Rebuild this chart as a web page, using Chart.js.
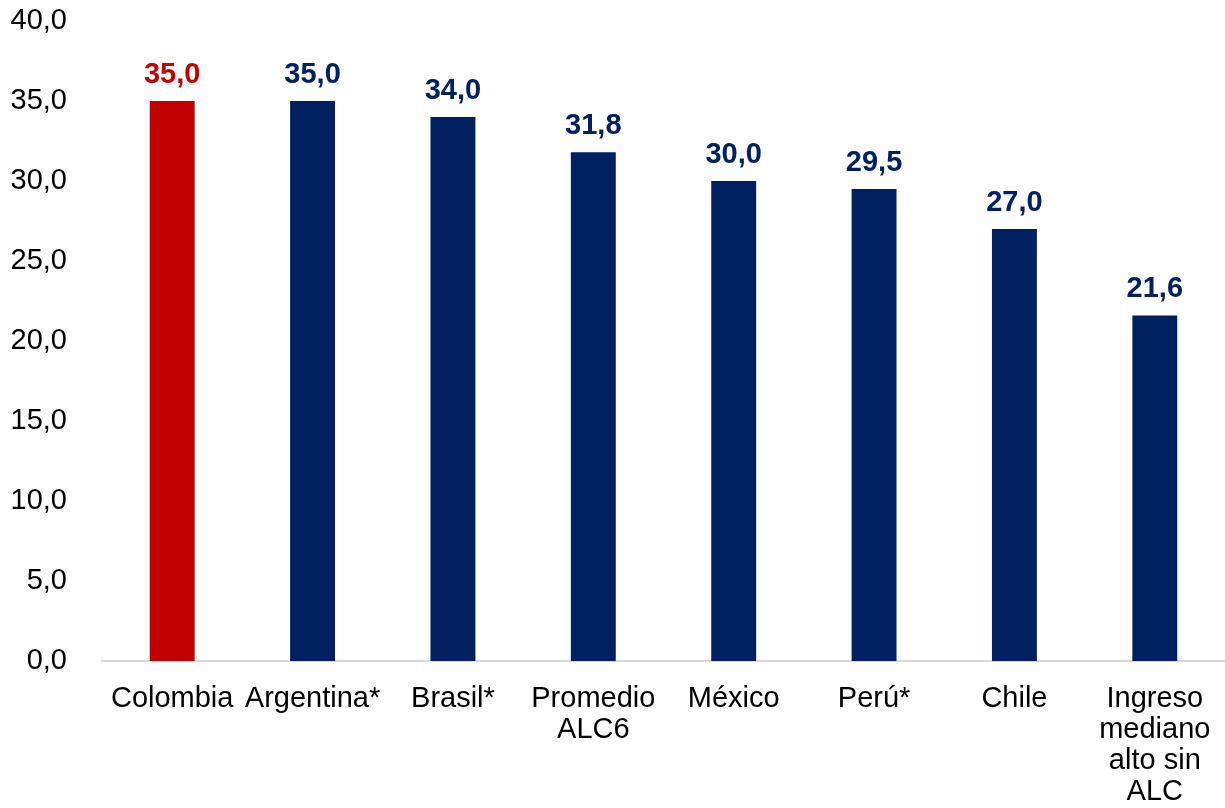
<!DOCTYPE html>
<html>
<head>
<meta charset="utf-8">
<script src="https://cdn.jsdelivr.net/npm/chart.js@4"></script>
<style>
  html, body { margin: 0; padding: 0; background: #fff; }
  #wrap { width: 1225px; height: 808px; position: relative; }
</style>
</head>
<body>
<div id="wrap"><canvas id="chart"></canvas></div>
<script>
const categories = [
  "Colombia",
  "Argentina*",
  "Brasil*",
  ["Promedio", "ALC6"],
  "México",
  "Perú*",
  "Chile",
  ["Ingreso", "mediano", "alto sin", "ALC"]
];
const values = [35.0, 35.0, 34.0, 31.8, 30.0, 29.5, 27.0, 21.6];
const yTicks = [0, 5, 10, 15, 20, 25, 30, 35, 40];

const navy = "#002060";
const red = "#C00000";
const barColors = values.map((v, i) => i === 0 ? red : navy);
const fontFamily = "'Liberation Sans', Arial, sans-serif";

const fmt = v => v.toFixed(1).replace(".", ",");

// value labels above each bar
const valueLabels = {
  id: "valueLabels",
  afterDatasetsDraw(chart) {
    const ctx = chart.ctx;
    const meta = chart.getDatasetMeta(0);
    ctx.save();
    ctx.font = "bold 29px " + fontFamily;
    ctx.textAlign = "center";
    ctx.textBaseline = "alphabetic";
    meta.data.forEach((bar, i) => {
      ctx.fillStyle = barColors[i];
      ctx.fillText(fmt(values[i]), bar.x, bar.y - 18);
    });
    ctx.restore();
  }
};

new Chart(document.getElementById("chart"), {
  type: "bar",
  data: {
    labels: categories,
    datasets: [{
      data: values,
      backgroundColor: barColors,
      barPercentage: 0.64,
      categoryPercentage: 0.5
    }]
  },
  options: {
    responsive: true,
    maintainAspectRatio: false,
    animation: false,
    layout: { padding: { top: 21, right: -5, bottom: 0, left: 0 } },
    plugins: {
      legend: { display: false },
      tooltip: { enabled: false }
    },
    scales: {
      x: {
        grid: { display: false, drawTicks: false },
        border: { display: true, color: "#D9D9D9", width: 2 },
        afterFit: axis => { axis.height = 147; axis.paddingLeft = 0; axis.paddingRight = 0; },
        ticks: {
          color: "#000",
          font: { family: fontFamily, size: 29, lineHeight: 1.07 },
          padding: 22,
          maxRotation: 0,
          autoSkip: false
        }
      },
      y: {
        min: 0,
        max: 40,
        afterBuildTicks: axis => { axis.ticks = yTicks.map(v => ({ value: v })); },
        afterFit: axis => { axis.width = 102; axis.paddingTop = 0; axis.paddingBottom = 0; },
        grid: { display: false, drawTicks: false },
        border: { display: false },
        ticks: {
          color: "#000",
          font: { family: fontFamily, size: 29 },
          padding: 35,
          callback: v => fmt(v)
        }
      }
    }
  },
  plugins: [valueLabels]
});
</script>
</body>
</html>
